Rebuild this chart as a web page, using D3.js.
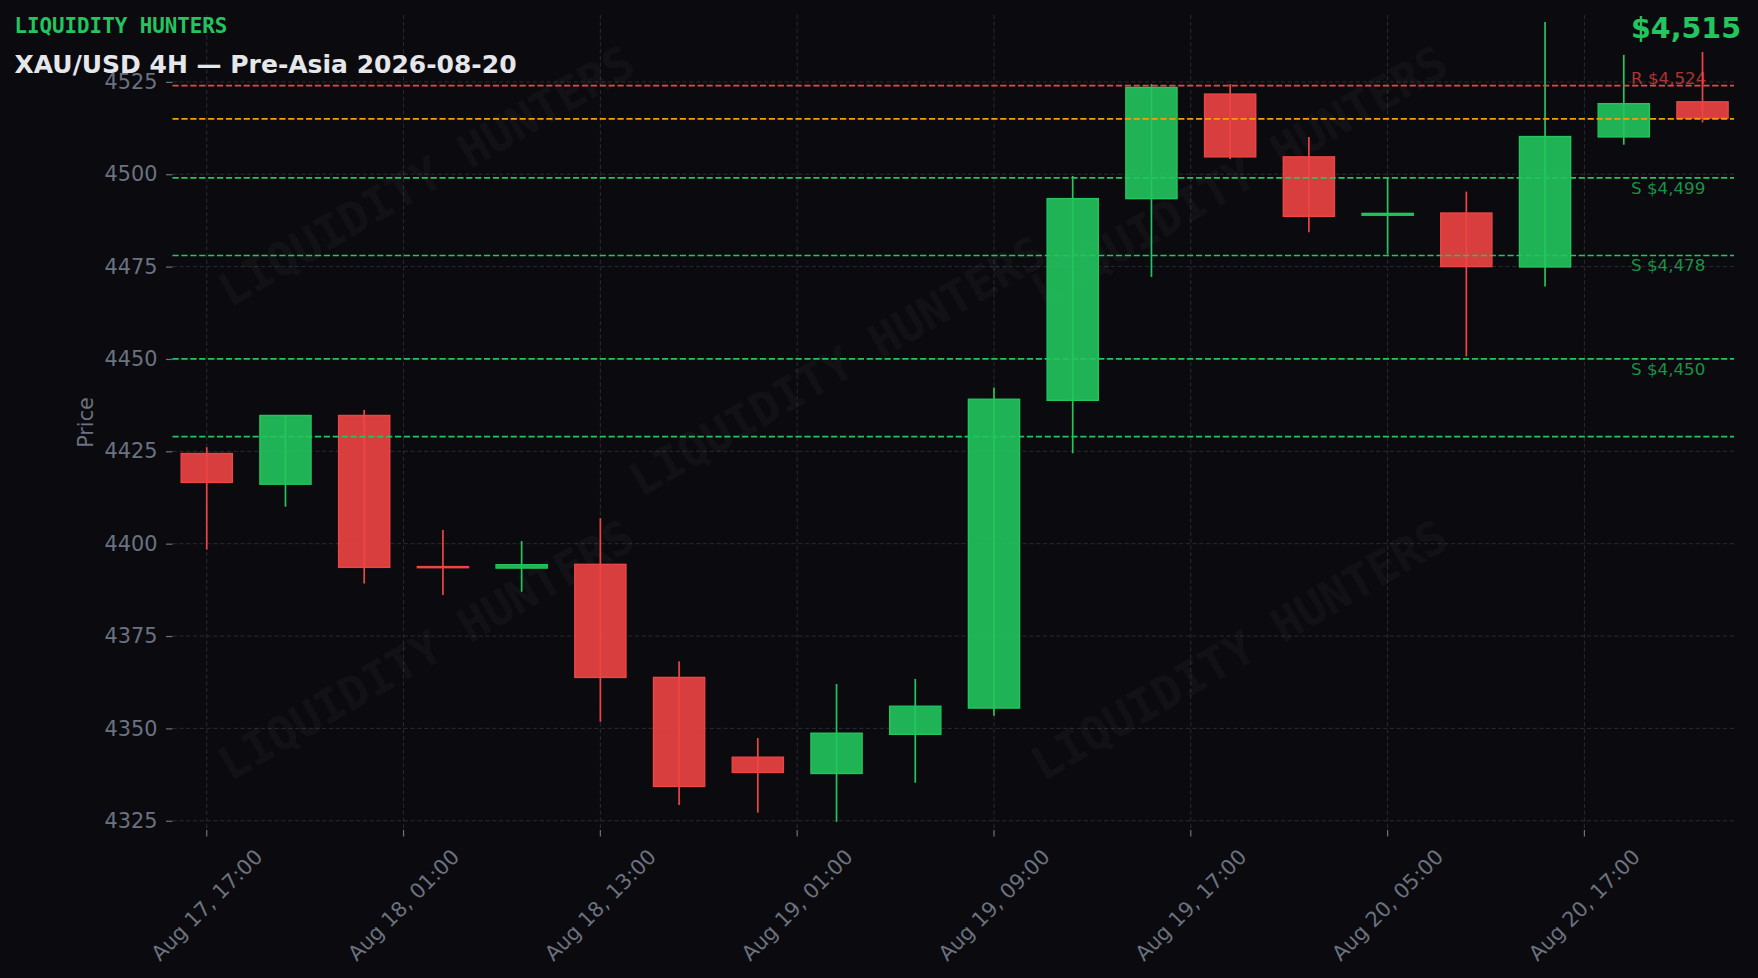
<!DOCTYPE html>
<html>
<head>
<meta charset="utf-8">
<script src="https://cdn.jsdelivr.net/npm/d3@7"></script>
<style>
  html, body { margin: 0; padding: 0; background: #0b0b0f; }
  svg { display: block; }
</style>
</head>
<body>
<svg id="chart" width="1758" height="978"></svg>
<script>
// ---------------- DATA ----------------
const times = [
  "2026-08-17 17:00", "2026-08-17 21:00", "2026-08-18 01:00", "2026-08-18 05:00",
  "2026-08-18 09:00", "2026-08-18 13:00", "2026-08-18 17:00", "2026-08-18 21:00",
  "2026-08-19 01:00", "2026-08-19 05:00", "2026-08-19 09:00", "2026-08-19 13:00",
  "2026-08-19 17:00", "2026-08-19 21:00", "2026-08-20 01:00", "2026-08-20 05:00",
  "2026-08-20 09:00", "2026-08-20 13:00", "2026-08-20 17:00", "2026-08-20 21:00"
];
const openP  = [4424.4, 4416.1, 4434.7, 4393.8, 4393.4, 4394.4, 4363.8, 4342.2, 4337.8, 4348.4,
                4355.5, 4438.8, 4493.4, 4521.7, 4504.7, 4488.9, 4489.5, 4474.9, 4510.1, 4519.6];
const highP  = [4426.1, 4434.8, 4436.2, 4403.7, 4400.7, 4406.9, 4368.2, 4347.4, 4362.0, 4363.4,
                4442.3, 4499.5, 4524.4, 4524.4, 4510.1, 4499.2, 4495.3, 4541.2, 4532.3, 4533.1];
const lowP   = [4398.4, 4410.0, 4389.2, 4386.1, 4387.0, 4351.8, 4329.3, 4327.2, 4324.7, 4335.3,
                4353.4, 4424.5, 4472.2, 4504.1, 4484.3, 4478.3, 4450.7, 4469.6, 4508.0, 4514.0];
const closeP = [4416.6, 4434.7, 4393.6, 4393.5, 4394.3, 4363.8, 4334.3, 4338.1, 4348.7, 4356.0,
                4439.1, 4493.4, 4523.5, 4504.7, 4488.6, 4489.4, 4475.0, 4510.2, 4519.1, 4515.2];

const xTickPositions = [0, 2.5, 5, 7.5, 10, 12.5, 15, 17.5];
const xTickLabels = ["Aug 17, 17:00", "Aug 18, 01:00", "Aug 18, 13:00", "Aug 19, 01:00",
                     "Aug 19, 09:00", "Aug 19, 17:00", "Aug 20, 05:00", "Aug 20, 17:00"];
const yTicks = [4325, 4350, 4375, 4400, 4425, 4450, 4475, 4500, 4525];

const levelValues = [4524, 4515, 4499, 4478, 4450, 4429];
const levelKinds  = ["R", "P", "S", "S", "S", "S"];
const levelLabels = ["R $4,524", "", "S $4,499", "S $4,478", "S $4,450", ""];

const brand = "LIQUIDITY HUNTERS";
const title = "XAU/USD 4H \u2014 Pre-Asia 2026-08-20";
const priceLabel = "$4,515";
const yAxisTitle = "Price";

// ---------------- STYLE ----------------
const W = 1758, H = 978;
const plot = { left: 172.5, right: 1734, top: 15, bottom: 830 };
const GREEN = "#22c55e", RED = "#ef4444", ORANGE = "#f59e0b";
const BG = "#0b0b0f";
const GRID = "#2a2a33";
const TICK = "#6b7280";
const SANS = "'DejaVu Sans', Verdana, sans-serif";
const MONO = "'DejaVu Sans Mono', monospace";
const LABEL_FS = 20.8;

const svg = d3.select("#chart");
svg.append("rect").attr("width", W).attr("height", H).attr("fill", BG);

const x = d3.scaleLinear().domain([-0.435, 19.4]).range([plot.left, plot.right]);
const y = d3.scaleLinear().domain([4322.5, 4543.1]).range([plot.bottom, plot.top]);

// grid
const grid = svg.append("g");
grid.selectAll("line.hg").data(yTicks).join("line")
  .attr("x1", plot.left).attr("x2", plot.right)
  .attr("y1", d => y(d)).attr("y2", d => y(d))
  .attr("stroke", GRID).attr("stroke-width", 1).attr("stroke-dasharray", "4.2,2.6");
grid.selectAll("line.vg").data(xTickPositions).join("line")
  .attr("x1", d => x(d)).attr("x2", d => x(d))
  .attr("y1", plot.top).attr("y2", plot.bottom)
  .attr("stroke", GRID).attr("stroke-width", 1).attr("stroke-dasharray", "4.2,2.6");

// watermarks
const wmPos = [[426, 176], [1239, 176], [837, 366], [426, 650], [1239, 650]];
svg.append("g").selectAll("text").data(wmPos).join("text")
  .attr("transform", d => `translate(${d[0]},${d[1]}) rotate(-30)`)
  .attr("text-anchor", "middle").attr("dy", "0.35em")
  .attr("font-family", MONO).attr("font-weight", "bold").attr("font-size", 46)
  .attr("fill", "rgba(255,255,255,0.055)")
  .text(brand);

// axes
const yAxis = d3.axisLeft(y).tickValues(yTicks).tickSize(6.5).tickPadding(8.5).tickFormat(d3.format("d"));
const gy = svg.append("g").attr("transform", `translate(${plot.left},0)`).call(yAxis);
gy.select(".domain").remove();
gy.selectAll("line").attr("stroke", TICK).attr("stroke-width", 1.2);
gy.selectAll("text").attr("fill", TICK).attr("font-family", SANS).attr("font-size", LABEL_FS);

const gx = svg.append("g").attr("transform", `translate(0,${plot.bottom})`);
gx.selectAll("line").data(xTickPositions).join("line")
  .attr("x1", d => x(d)).attr("x2", d => x(d)).attr("y1", 0).attr("y2", 6.5)
  .attr("stroke", TICK).attr("stroke-width", 1.2);
gx.selectAll("text").data(xTickPositions).join("text")
  .attr("font-family", SANS).attr("font-size", LABEL_FS).attr("fill", TICK)
  .attr("text-anchor", "middle")
  .attr("transform", d => `translate(${x(d)},75) rotate(-45)`)
  .attr("dy", (0.346 * LABEL_FS).toFixed(2))
  .text((d, i) => xTickLabels[i]);

// y axis title
svg.append("text")
  .attr("transform", `translate(86,${(plot.top + plot.bottom) / 2}) rotate(-90)`)
  .attr("text-anchor", "middle").attr("dy", "0.35em")
  .attr("font-family", SANS).attr("font-size", LABEL_FS).attr("fill", TICK)
  .text(yAxisTitle);

// candles
const candles = svg.append("g");
const idx = d3.range(times.length);
const bodyW = x(0.65) - x(0);
candles.selectAll("line.wick").data(idx).join("line")
  .attr("x1", i => x(i)).attr("x2", i => x(i))
  .attr("y1", i => y(highP[i])).attr("y2", i => y(lowP[i]))
  .attr("stroke", i => closeP[i] >= openP[i] ? GREEN : RED)
  .attr("stroke-width", 1.7);
candles.selectAll("rect.body").data(idx).join("rect")
  .attr("x", i => x(i) - bodyW / 2)
  .attr("width", bodyW)
  .attr("y", i => y(Math.max(openP[i], closeP[i])))
  .attr("height", i => Math.max(0.5, Math.abs(y(openP[i]) - y(closeP[i]))))
  .attr("fill", i => closeP[i] >= openP[i] ? GREEN : RED)
  .attr("fill-opacity", 0.9)
  .attr("stroke", i => closeP[i] >= openP[i] ? GREEN : RED)
  .attr("stroke-width", 1.4);

// level lines
const lvColor = k => k === "R" ? RED : (k === "P" ? ORANGE : GREEN);
const lv = svg.append("g");
lv.selectAll("line").data(levelValues).join("line")
  .attr("x1", plot.left).attr("x2", plot.right)
  .attr("y1", d => y(d)).attr("y2", d => y(d))
  .attr("stroke", (d, i) => lvColor(levelKinds[i]))
  .attr("stroke-width", 1.7).attr("stroke-dasharray", "6.2,2.7");
lv.selectAll("text").data(levelValues).join("text")
  .attr("x", 1631)
  .attr("y", (d, i) => levelKinds[i] === "R" ? y(d) - 1.5 : y(d) + 15.8)
  .attr("font-family", SANS).attr("font-size", 16.7)
  .attr("fill", (d, i) => lvColor(levelKinds[i]))
  .attr("fill-opacity", 0.72)
  .text((d, i) => levelLabels[i]);

// header texts
svg.append("text").attr("x", 14.5).attr("y", 33.3)
  .attr("font-family", MONO).attr("font-weight", "bold").attr("font-size", 20.8)
  .attr("fill", GREEN).text(brand);
svg.append("text").attr("x", 14.5).attr("y", 73.3)
  .attr("font-family", SANS).attr("font-weight", "bold").attr("font-size", 25)
  .attr("fill", "#e5e7eb").text(title);
svg.append("text").attr("x", 1741).attr("y", 38.3).attr("text-anchor", "end")
  .attr("font-family", SANS).attr("font-weight", "bold").attr("font-size", 28.5)
  .attr("fill", GREEN).text(priceLabel);
</script>
</body>
</html>
